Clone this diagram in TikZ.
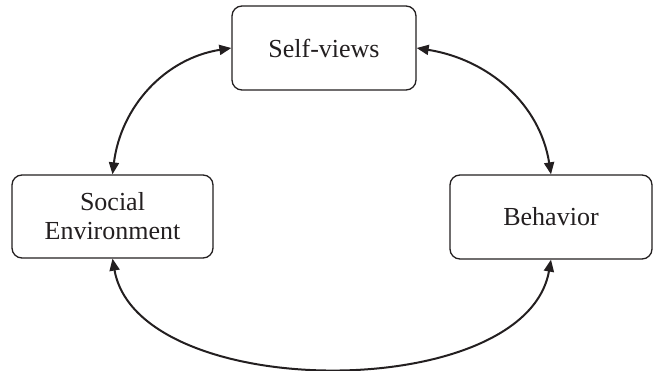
\documentclass[tikz,border=0pt]{standalone}
\usepackage{fontspec}
\setmainfont{Liberation Serif}
\usetikzlibrary{arrows.meta}
\definecolor{ink}{HTML}{231F20}
\begin{document}
\begin{tikzpicture}[x=1pt,y=1pt,
  box/.style={draw=ink,line width=1.3pt,rounded corners=10pt,fill=white,text=ink,
    align=center,inner sep=0pt,font=\fontsize{26}{29}\selectfont},
  link/.style={draw=ink,line width=2pt,{Triangle[length=12pt,width=10pt]}-{Triangle[length=12pt,width=10pt]}}]
\useasboundingbox (0,0) rectangle (654,-371);
\node[box,minimum width=184pt,minimum height=84pt] (self) at (324,-48) {Self-views};
\node[box,minimum width=201pt,minimum height=83pt] (soc) at (112.5,-216.5) {Social\\Environment};
\node[box,minimum width=202pt,minimum height=84pt] (beh) at (551,-217) {Behavior};
\draw[link] (soc.north) to[out=83,in=189] (self.west);
\draw[link] (self.east) to[out=-9,in=99] (beh.north);
\draw[link] (soc.south) .. controls +(-80:147) and +(-100:147) .. (beh.south);
\end{tikzpicture}
\end{document}
